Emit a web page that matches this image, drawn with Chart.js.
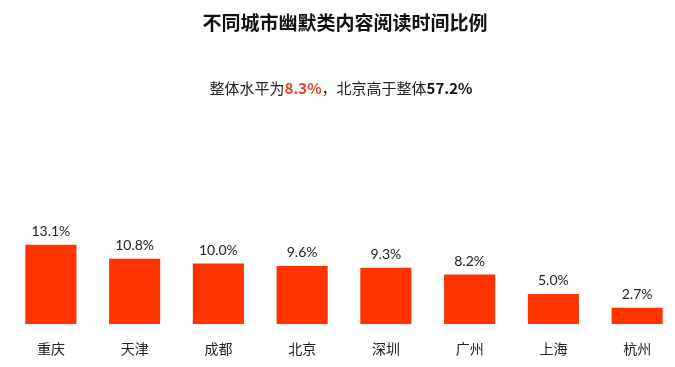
<!DOCTYPE html>
<html>
<head>
<meta charset="utf-8">
<script src="https://cdn.jsdelivr.net/npm/chart.js@4"></script>
<style>
  html, body { margin: 0; padding: 0; background: #fff; overflow: hidden; }
  #clip { width: 675px; height: 367px; overflow: hidden; }
  #wrap { position: relative; width: 679px; height: 384px; }
</style>
</head>
<body>
<div id="clip"><div id="wrap"><canvas id="barChart"></canvas></div></div>
<script>
const cities = ["重庆", "天津", "成都", "北京", "深圳", "广州", "上海", "杭州"];
const shares = [13.1, 10.8, 10.0, 9.6, 9.3, 8.2, 5.0, 2.7];
const titleText = "不同城市幽默类内容阅读时间比例";
const subParts = [
  { text: "整体水平为", bold: false, color: "#222" },
  { text: "8.3%", bold: true, color: "#f03c1e" },
  { text: "，北京高于整体", bold: false, color: "#222" },
  { text: "57.2%", bold: true, color: "#111" }
];

const cjk = '"Noto Sans CJK SC", "Noto Sans", sans-serif';

// titles + value labels drawn straight on the canvas
const textPlugin = {
  id: "textPlugin",
  afterDatasetsDraw(chart) {
    const ctx = chart.ctx;
    ctx.save();
    ctx.fillStyle = "#111";
    ctx.font = "bold 19px " + cjk;
    ctx.textAlign = "center";
    ctx.textBaseline = "middle";
    ctx.fillText(titleText, 345, 23);

    // subtitle with mixed colours
    let total = 0;
    subParts.forEach((p) => {
      ctx.font = (p.bold ? "bold " : "") + "15px " + cjk;
      p.w = ctx.measureText(p.text).width;
      total += p.w;
    });
    let x = 341 - total / 2;
    ctx.textAlign = "left";
    subParts.forEach((p) => {
      ctx.font = (p.bold ? "bold " : "") + "15px " + cjk;
      ctx.fillStyle = p.color;
      ctx.fillText(p.text, x, 88);
      x += p.w;
    });

    // value labels above bars
    const meta = chart.getDatasetMeta(0);
    ctx.font = "14px Lato, sans-serif";
    ctx.fillStyle = "#222";
    ctx.textAlign = "center";
    ctx.textBaseline = "alphabetic";
    meta.data.forEach((bar, i) => {
      ctx.fillText(shares[i].toFixed(1) + "%", bar.x, bar.y - 9);
    });
    ctx.restore();
  }
};

const ctx = document.getElementById("barChart").getContext("2d");
new Chart(ctx, {
  type: "bar",
  data: {
    labels: cities,
    datasets: [{
      data: shares,
      backgroundColor: "#ff3300",
      barPercentage: 0.61,
      categoryPercentage: 1.0
    }]
  },
  options: {
    responsive: true,
    maintainAspectRatio: false,
    animation: false,
    layout: { padding: { left: 9, right: 0, top: 203, bottom: 11 } },
    plugins: {
      legend: { display: false },
      tooltip: { enabled: false }
    },
    scales: {
      x: {
        grid: { display: false, drawTicks: false },
        border: { display: false },
        ticks: {
          color: "#222",
          padding: 16,
          font: { size: 14, family: '"Noto Sans CJK SC", sans-serif' }
        }
      },
      y: {
        display: false,
        min: 0,
        max: 20
      }
    }
  },
  plugins: [textPlugin]
});
</script>
</body>
</html>
